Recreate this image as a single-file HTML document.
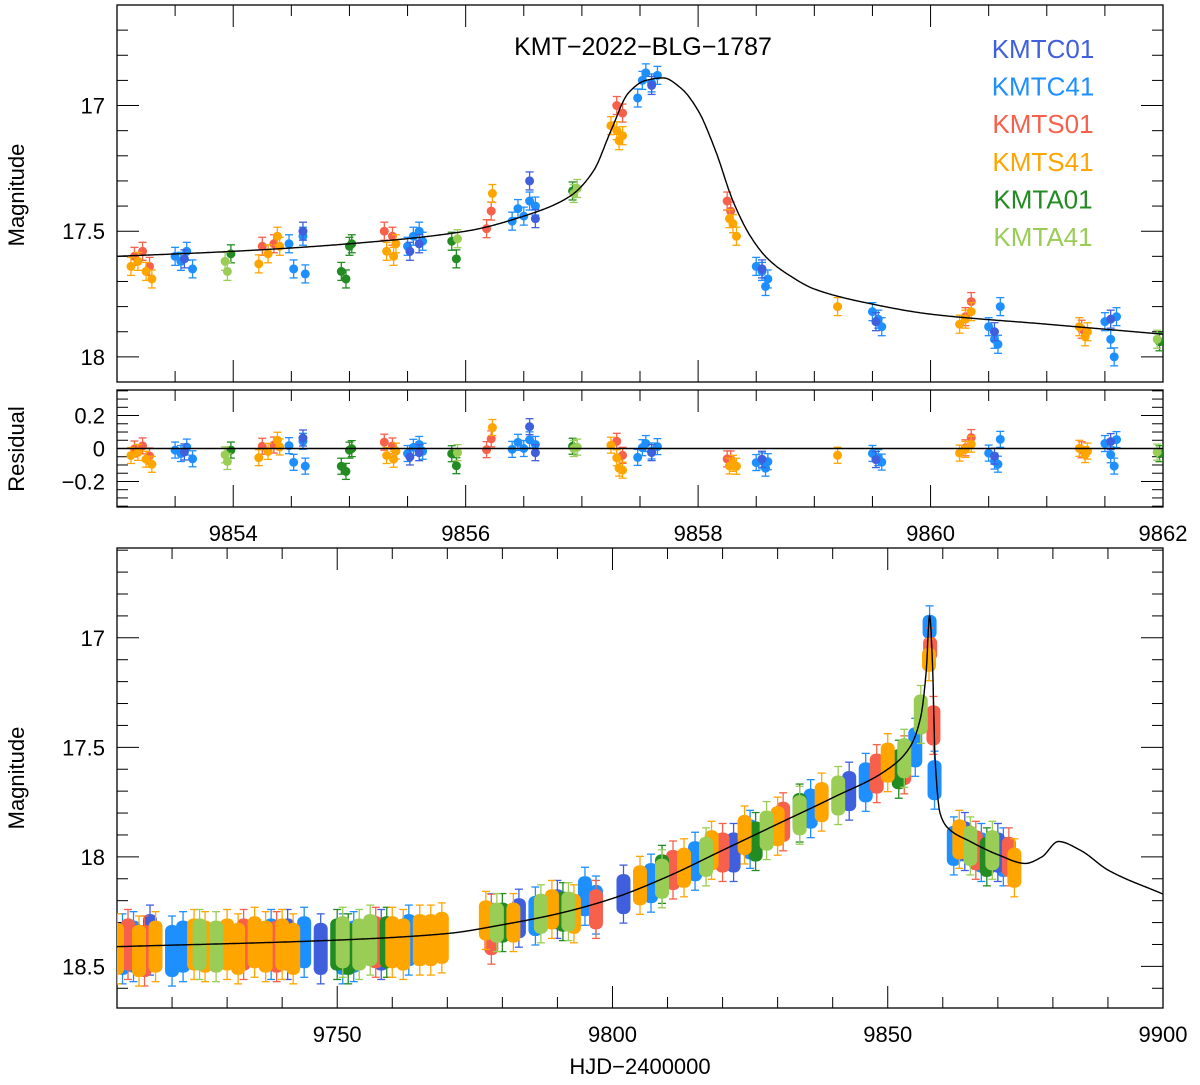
<!DOCTYPE html>
<html><head><meta charset="utf-8"><style>
body{margin:0;background:#fff}
svg text{font-family:"Liberation Sans",sans-serif;fill:#000}
</style></head><body>
<svg id="chart" width="1200" height="1080" xmlns="http://www.w3.org/2000/svg"></svg>
<script>
// ---- data ----
const obsNames = ["KMTC01","KMTC41","KMTS01","KMTS41","KMTA01","KMTA41"];
const obsColors = ["#3f5fdc","#1e8fff","#f7604a","#ffa500","#228b22","#9acd55"];
// zoom-panel data [t, mag]
const zC01 = [[9853.58,17.61],[9854.6,17.50],[9855.52,17.58],[9855.6,17.55],[9856.55,17.30],[9856.6,17.45],[9857.6,16.92],[9858.55,17.65],[9859.53,17.86],[9860.55,17.90],[9861.55,17.85]];
const zC41 = [[9853.5,17.60],[9853.55,17.62],[9853.6,17.58],[9853.65,17.65],[9854.48,17.55],[9854.52,17.65],[9854.6,17.52],[9854.62,17.67],[9855.5,17.56],[9855.55,17.52],[9855.6,17.50],[9855.63,17.54],[9856.4,17.46],[9856.45,17.41],[9856.5,17.44],[9856.55,17.38],[9856.6,17.40],[9857.52,16.90],[9857.55,16.87],[9857.6,16.91],[9857.65,16.88],[9857.48,16.97],[9858.5,17.64],[9858.55,17.66],[9858.58,17.72],[9858.6,17.69],[9859.5,17.82],[9859.55,17.85],[9859.58,17.88],[9860.5,17.88],[9860.55,17.93],[9860.6,17.80],[9860.58,17.95],[9861.5,17.86],[9861.55,17.93],[9861.58,18.00],[9861.6,17.84]];
const zS01 = [[9853.15,17.60],[9853.22,17.58],[9853.28,17.64],[9854.25,17.56],[9854.35,17.55],[9855.3,17.50],[9855.37,17.52],[9856.18,17.49],[9856.22,17.42],[9857.3,17.00],[9857.35,17.03],[9858.25,17.38],[9858.28,17.42],[9860.3,17.84],[9860.35,17.78],[9861.3,17.89]];
const zS41 = [[9853.12,17.64],[9853.18,17.62],[9853.25,17.66],[9853.3,17.69],[9854.22,17.63],[9854.3,17.59],[9854.38,17.52],[9854.4,17.56],[9855.32,17.58],[9855.38,17.60],[9855.4,17.55],[9856.23,17.35],[9857.25,17.08],[9857.3,17.10],[9857.32,17.14],[9857.35,17.12],[9858.3,17.47],[9858.33,17.52],[9858.27,17.45],[9859.2,17.80],[9860.25,17.87],[9860.3,17.85],[9860.35,17.82],[9861.28,17.88],[9861.33,17.92],[9861.35,17.90]];
const zA01 = [[9853.98,17.59],[9854.93,17.66],[9854.97,17.69],[9855.0,17.56],[9855.02,17.55],[9855.88,17.54],[9855.92,17.61],[9856.92,17.34],[9861.97,17.94]];
const zA41 = [[9853.93,17.62],[9853.95,17.66],[9855.93,17.53],[9856.93,17.35],[9856.96,17.33],[9861.95,17.93]];
// zoom-panel model
const zModelT = [9853,9854,9855,9856,9856.5,9856.9,9857.1,9857.25,9857.4,9857.55,9857.7,9857.85,9858.0,9858.15,9858.3,9858.45,9858.6,9858.8,9859,9859.5,9860,9861,9862];
const zModelM = [17.60,17.58,17.55,17.50,17.44,17.36,17.26,17.10,16.95,16.90,16.89,16.93,17.02,17.18,17.38,17.52,17.61,17.68,17.73,17.79,17.83,17.87,17.91];
// full season data [t, mag]
const fC01 = [[9716,18.38],[9741,18.40],[9747,18.42],[9758,18.40],[9783,18.28],[9790,18.24],[9802,18.17],[9822,17.98],[9843,17.70],[9864,17.93],[9870,17.98]];
const fC41 = [[9711,18.42],[9713,18.41],[9720,18.43],[9722,18.41],[9738,18.40],[9744,18.39],[9751,18.42],[9753,18.41],[9763,18.38],[9778,18.30],[9786,18.27],[9795,18.18],[9797,18.22],[9807,18.12],[9815,18.02],[9825,17.92],[9836,17.78],[9846,17.66],[9855,17.50],[9857.6,16.95],[9858.5,17.65],[9862,17.95],[9867,17.98],[9871,18.0]];
const fS01 = [[9712,18.40],[9715,18.43],[9733,18.40],[9739,18.41],[9757,18.39],[9778,18.33],[9797,18.24],[9811,18.06],[9820,17.98],[9831,17.84],[9848,17.62],[9853,17.58],[9857.7,17.05],[9858.3,17.40],[9866,17.97],[9872,18.0]];
const fS41 = [[9710,18.42],[9714,18.43],[9717,18.41],[9724,18.40],[9726,18.41],[9730,18.40],[9732,18.42],[9735,18.39],[9737,18.41],[9740,18.40],[9742,18.42],[9760,18.39],[9762,18.40],[9765,18.38],[9767,18.38],[9769,18.37],[9777,18.29],[9782,18.30],[9789,18.24],[9793,18.26],[9805,18.13],[9813,18.05],[9818,17.97],[9824,17.90],[9830,17.86],[9838,17.75],[9850,17.57],[9857.5,17.1],[9863,17.92],[9873,18.05]];
const fA01 = [[9750,18.40],[9752,18.42],[9759,18.39],[9780,18.30],[9791,18.25],[9809,18.08],[9826,17.93],[9834,17.80],[9852,17.60],[9868,18.0]];
const fA41 = [[9725,18.40],[9728,18.41],[9751,18.39],[9754,18.40],[9756,18.38],[9779,18.30],[9787,18.26],[9792,18.25],[9809,18.10],[9817,18.00],[9828,17.88],[9834,17.81],[9841,17.72],[9853,17.55],[9856,17.35],[9865,17.95],[9869,17.97]];
const fModelT = [9710,9750,9770,9780,9790,9800,9810,9820,9830,9840,9850,9854,9856,9857,9857.6,9858.1,9858.6,9859.5,9861,9865,9870,9875,9878,9881,9885,9890,9900];
const fModelM = [18.41,18.38,18.35,18.31,18.26,18.19,18.09,17.97,17.85,17.73,17.60,17.50,17.36,17.15,16.90,17.10,17.55,17.80,17.87,17.93,17.99,18.03,18.0,17.93,17.97,18.06,18.17];

// ---- drawing ----
const svg = document.getElementById('chart');
const NS = 'http://www.w3.org/2000/svg';
function mk(tag, attrs, parent){const e=document.createElementNS(NS,tag);for(const k in attrs)e.setAttribute(k,attrs[k]);(parent||svg).appendChild(e);return e;}
// monotone cubic (Fritsch-Carlson) interpolation
function interp(T,M,t){
  const n=T.length;if(t<=T[0])return M[0];if(t>=T[n-1])return M[n-1];
  let i=1;while(T[i]<t)i++;i--;
  const d=[];for(let k=0;k<n-1;k++)d.push((M[k+1]-M[k])/(T[k+1]-T[k]));
  function slope(k){if(k===0)return d[0];if(k===n-1)return d[n-2];if(d[k-1]*d[k]<=0)return 0;
    const w1=2*(T[k+1]-T[k])+(T[k]-T[k-1]),w2=(T[k+1]-T[k])+2*(T[k]-T[k-1]);return (w1+w2)/(w1/d[k-1]+w2/d[k]);}
  const h=T[i+1]-T[i],s=(t-T[i])/h,m0=slope(i)*h,m1=slope(i+1)*h;
  const h00=2*s*s*s-3*s*s+1,h10=s*s*s-2*s*s+s,h01=-2*s*s*s+3*s*s,h11=s*s*s-s*s;
  return h00*M[i]+h10*m0+h01*M[i+1]+h11*m1;
}

const L=117,R=1163;
const P1={x0:9853,x1:9862,top:5,bot:382,y0:16.6,y1:18.1};
const P2={x0:9853,x1:9862,top:390,bot:507,y0:0.355,y1:-0.355};
const P3={x0:9710,x1:9900,top:548,bot:1008,y0:16.59,y1:18.69};
function sx(P,t){return L+(t-P.x0)/(P.x1-P.x0)*(R-L);}
function sy(P,v){return P.top+(v-P.y0)/(P.y1-P.y0)*(P.bot-P.top);}

function frame(P,name,xt,yt,xLabels,yLabels,yFmt){
  const g=mk('g',{});
  
  
  mk('rect',{x:L,y:P.top,width:R-L,height:P.bot-P.top,fill:'none',stroke:'#000','stroke-width':1.3},g);
  const xmin=Math.min(P.x0,P.x1),xmax=Math.max(P.x0,P.x1);
  for(let v=Math.ceil(xmin/xt[1]-1e-9)*xt[1];v<=xmax+1e-9;v+=xt[1]){
    const major=Math.abs(v/xt[0]-Math.round(v/xt[0]))<1e-6;const len=major?22:11;const x=sx(P,v);
    mk('line',{x1:x,x2:x,y1:P.bot,y2:P.bot-len,stroke:'#000','stroke-width':1},g);
    mk('line',{x1:x,x2:x,y1:P.top,y2:P.top+len,stroke:'#000','stroke-width':1},g);
    if(major&&xLabels){const t=mk('text',{x:x,y:P.bot+34,'text-anchor':'middle','font-size':22},g);t.textContent=Math.round(v);}
  }
  const ymin=Math.min(P.y0,P.y1),ymax=Math.max(P.y0,P.y1);
  for(let k=Math.ceil(ymin/yt[1]-1e-9);k*yt[1]<=ymax+1e-9;k++){
    const v=k*yt[1];const major=Math.abs(v/yt[0]-Math.round(v/yt[0]))<1e-6;const len=major?22:11;const y=sy(P,v);
    mk('line',{x1:L,x2:L+len,y1:y,y2:y,stroke:'#000','stroke-width':1},g);
    mk('line',{x1:R,x2:R-len,y1:y,y2:y,stroke:'#000','stroke-width':1},g);
    if(major&&yLabels){const t=mk('text',{x:L-12,y:y+8,'text-anchor':'end','font-size':22},g);t.textContent=yFmt(v);}
  }
}
frame(P1,'top-panel-axes',[2,0.5],[0.5,0.1],false,true,v=>(Math.round(v*10)/10).toString());
frame(P2,'residual-panel-axes',[2,0.5],[0.2,0.05],true,true,v=>{const r=Math.round(v*10)/10;return r===0?'0':(r<0?'\u2212'+Math.abs(r):''+r);});
frame(P3,'bottom-panel-axes',[50,10],[0.5,0.1],true,true,v=>(Math.round(v*10)/10).toString());

function clipRect(P,id){const d=mk('defs',{});const c=mk('clipPath',{id:id},d);mk('rect',{x:L,y:P.top,width:R-L,height:P.bot-P.top},c);}
clipRect(P1,'c1');clipRect(P2,'c2');clipRect(P3,'c3');

// zoom panel points
const zSets=[zC01,zC41,zS01,zS41,zA01,zA41];
const drawOrder=[1,0,2,3,4,5];
const gz=mk('g',{'clip-path':'url(#c1)'});


const gr=mk('g',{'clip-path':'url(#c2)'});


function errPoint(g,x,y,h,col,r){
  mk('line',{x1:x,x2:x,y1:y-h,y2:y+h,stroke:col,'stroke-width':1.3},g);
  mk('line',{x1:x-4,x2:x+4,y1:y-h,y2:y-h,stroke:col,'stroke-width':1.3},g);
  mk('line',{x1:x-4,x2:x+4,y1:y+h,y2:y+h,stroke:col,'stroke-width':1.3},g);
  mk('circle',{cx:x,cy:y,r:r,fill:col},g);
}
drawOrder.forEach(i=>{
  zSets[i].forEach(p=>{
    const x=sx(P1,p[0]);
    errPoint(gz,x,sy(P1,p[1]),9,obsColors[i],4.5);
    const res=p[1]-interp(zModelT,zModelM,p[0]);
    errPoint(gr,x,sy(P2,-res),8,obsColors[i],4.5);
  });
});
// zoom model
let d='';for(let t=P1.x0;t<=P1.x1+1e-9;t+=0.01){d+=(d?'L':'M')+sx(P1,t).toFixed(1)+','+sy(P1,interp(zModelT,zModelM,t)).toFixed(1);}
const zm=mk('path',{d:d,fill:'none',stroke:'#000','stroke-width':1.4,'clip-path':'url(#c1)'});


const z0=mk('line',{x1:L,x2:R,y1:sy(P2,0),y2:sy(P2,0),stroke:'#000','stroke-width':1.4});



// full panel
const fSets=[fC01,fC41,fS01,fS41,fA01,fA41];
const gf=mk('g',{'clip-path':'url(#c3)'});


[1,0,2,4,3,5].forEach(i=>{
  fSets[i].forEach(p=>{
    const x=sx(P3,p[0]),y=sy(P3,p[1]);const peak=p[1]<17.3;const h=peak?12:(p[1]>18.3?26:20);const col=obsColors[i];
    mk('line',{x1:x,x2:x,y1:y-h-9,y2:y+h+9,stroke:col,'stroke-width':1.3},gf);
    mk('line',{x1:x-4,x2:x+4,y1:y-h-9,y2:y-h-9,stroke:col,'stroke-width':1.3},gf);
    mk('line',{x1:x-4,x2:x+4,y1:y+h+9,y2:y+h+9,stroke:col,'stroke-width':1.3},gf);
    mk('rect',{x:x-7,y:y-h,width:14,height:2*h,rx:6,fill:col},gf);
  });
});
d='';for(let t=P3.x0;t<=P3.x1+1e-9;t+=0.05){d+=(d?'L':'M')+sx(P3,t).toFixed(1)+','+sy(P3,interp(fModelT,fModelM,t)).toFixed(1);}
const fm=mk('path',{d:d,fill:'none',stroke:'#000','stroke-width':1.4,'clip-path':'url(#c3)'});



// text
function txt(s,x,y,size,name,extra){const t=mk('text',Object.assign({x:x,y:y,'font-size':size},extra||{}));t.textContent=s;return t;}
txt('KMT\u22122022\u2212BLG\u22121787',643,55,25,'chart-title',{'text-anchor':'middle'});
obsNames.forEach((n,i)=>{const t=txt(n,1043,58+i*37.6,26,'legend-entry',{'text-anchor':'middle'});t.style.fill=obsColors[i];});
txt('Magnitude',24,195,22,'top-y-axis-title',{'text-anchor':'middle',transform:'rotate(-90 24 195)'});
txt('Residual',24,449,22,'residual-y-axis-title',{'text-anchor':'middle',transform:'rotate(-90 24 449)'});
txt('Magnitude',24,778,22,'bottom-y-axis-title',{'text-anchor':'middle',transform:'rotate(-90 24 778)'});
txt('HJD\u22122400000',640,1074,22,'x-axis-title',{'text-anchor':'middle'});
</script>
</body></html>
